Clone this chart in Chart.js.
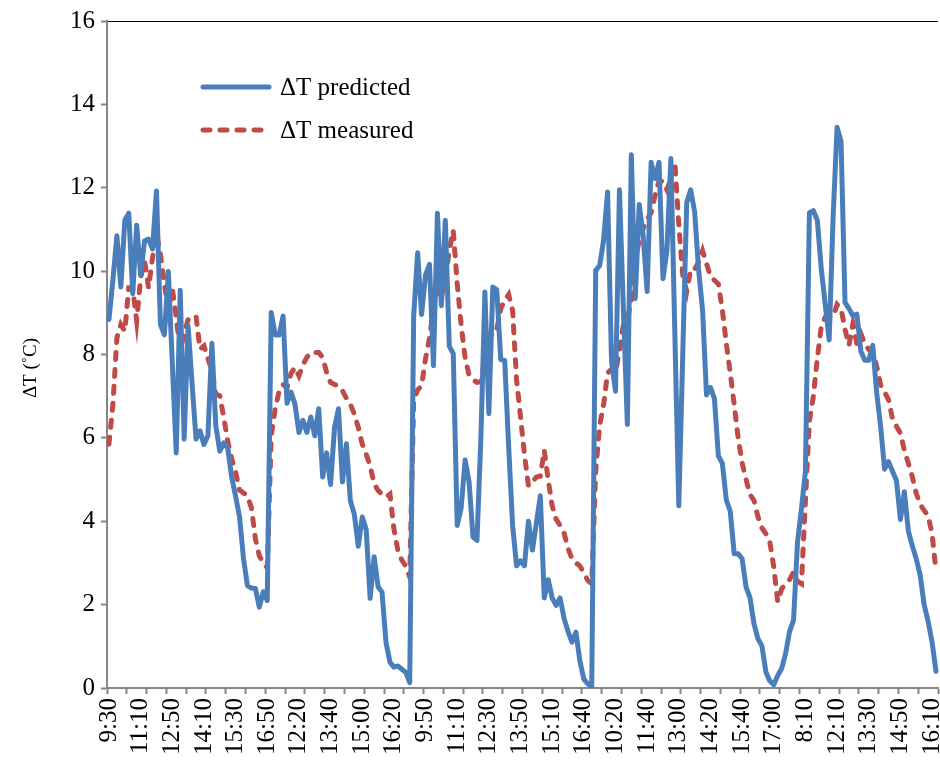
<!DOCTYPE html>
<html>
<head>
<meta charset="utf-8">
<script src="https://cdn.jsdelivr.net/npm/chart.js@4"></script>
<style>
  html, body { margin: 0; padding: 0; background: #fff; }
  #wrap { width: 940px; height: 773px; }
</style>
</head>
<body>
<div id="wrap"><canvas id="myChart" width="940" height="773"></canvas></div>
<script>
// Time labels shown along the x axis (one every 8 samples)
const tickLabels = ['9:30', '11:10', '12:50', '14:10', '15:30', '16:50', '12:20', '13:40', '15:00',
    '16:20', '9:50', '11:10', '12:30', '13:50', '15:10', '16:40', '10:20', '11:40', '13:00', '14:20',
    '15:40', '17:00', '8:10', '12:10', '13:30', '14:50', '16:10'];

// Predicted temperature difference (°C)
const predicted = [
    8.84, 9.8, 10.85, 9.62, 11.22, 11.39, 9.46, 11.10, 9.91, 10.73,
    10.77, 10.53, 11.92, 8.72, 8.47, 9.99, 7.8, 5.64, 9.54, 5.97,
    8.68, 7.3, 5.97, 6.17, 5.84, 6.05, 8.27, 6.29, 5.68, 5.88,
    5.76, 5.06, 4.6, 4.1, 3.1, 2.45, 2.4, 2.39, 1.94, 2.31,
    2.10, 9.01, 8.47, 8.47, 8.92, 6.83, 7.1, 6.81, 6.13, 6.42,
    6.13, 6.50, 6.05, 6.70, 5.06, 5.64, 4.88, 6.25, 6.70, 4.94,
    5.86, 4.49, 4.17, 3.40, 4.1, 3.8, 2.15, 3.15, 2.43, 2.3,
    1.1, 0.62, 0.5, 0.53, 0.45, 0.38, 0.13, 8.92, 10.44, 8.96,
    9.91, 10.16, 7.73, 11.39, 9.17, 11.22, 8.2, 8.02, 3.9, 4.32,
    5.47, 4.94, 3.62, 3.54, 6.05, 9.5, 6.58, 9.62, 9.55, 7.88,
    7.86, 5.8, 3.9, 2.93, 3.05, 2.93, 4.0, 3.31, 3.95, 4.61,
    2.16, 2.6, 2.16, 1.98, 2.16, 1.67, 1.36, 1.10, 1.34, 0.65,
    0.21, 0.1, 0.03, 10.02, 10.13, 10.75, 11.9, 7.83, 7.12, 11.95,
    9.07, 6.32, 12.79, 9.34, 11.6, 10.84, 9.51, 12.61, 12.22, 12.61,
    9.82, 10.5, 12.7, 8.5, 4.37, 8.0, 11.64, 11.95, 11.42, 10.04,
    9.07, 7.03, 7.21, 6.94, 5.57, 5.39, 4.51, 4.24, 3.22, 3.22,
    3.1, 2.42, 2.16, 1.54, 1.18, 1.01, 0.39, 0.17, 0.08, 0.30,
    0.47, 0.83, 1.36, 1.63, 3.5, 4.3, 5.2, 11.40, 11.45, 11.22,
    10.06, 9.2, 8.35, 11.31, 13.45, 13.11, 9.25, 9.1, 8.93, 8.97,
    8.08, 7.86, 7.86, 8.22, 7.09, 6.28, 5.25, 5.43, 5.2, 4.98,
    4.04, 4.71, 3.77, 3.41, 3.1, 2.7, 2.0, 1.6, 1.1, 0.4
];

// Measured temperature difference (°C)
const measured = [
    5.85, 6.81, 8.40, 8.72, 8.56, 9.6, 9.6, 8.80, 9.84, 10.24,
    9.6, 10.32, 10.92, 10.4, 9.7, 9.04, 9.6, 8.88, 8.09, 8.5,
    8.84, 8.88, 8.92, 8.13, 8.21, 7.9, 7.61, 7.05, 7.01, 6.49,
    5.93, 5.5, 5.18, 4.75, 4.68, 4.61, 4.32, 3.58, 3.17, 3.0,
    2.88, 6.05, 6.70, 7.12, 7.28, 7.20, 7.55, 7.69, 7.49, 7.75,
    7.93, 8.05, 8.05, 8.05, 7.93, 7.57, 7.33, 7.28, 7.25, 7.13,
    6.95, 6.81, 6.57, 6.25, 5.85, 5.61, 5.33, 4.90, 4.74, 4.65,
    4.58, 4.65, 3.82, 3.3, 3.07, 2.92, 2.66, 6.9, 7.15, 7.25,
    7.9, 8.4, 9.1, 9.58, 9.38, 9.83, 10.5, 10.98, 9.7, 8.7,
    7.93, 7.5, 7.4, 7.33, 7.35, 7.9, 8.5, 8.45, 8.6, 9.1,
    9.3, 9.44, 9.05, 7.4, 6.5, 5.6, 4.85, 4.95, 5.06, 5.08,
    5.70, 4.99, 4.37, 4.05, 3.9, 3.72, 3.35, 3.1, 3.0, 2.93,
    2.76, 2.58, 2.5, 5.2, 6.3, 6.8, 7.56, 7.65, 7.56, 8.1,
    8.72, 8.85, 9.3, 10.22, 10.75, 11.02, 11.24, 11.4, 11.82, 12.17,
    12.15, 11.95, 12.22, 12.61, 11.11, 9.9, 9.51, 10.04, 10.04, 10.22,
    10.49, 10.18, 9.87, 9.78, 9.69, 9.07, 8.27, 7.56, 6.8, 6.0,
    5.4, 5.0, 4.64, 4.5, 4.11, 3.84, 3.7, 3.5, 2.9, 2.07,
    2.38, 2.5, 2.6, 2.78, 2.56, 2.5, 4.5, 6.4, 7.0, 7.9,
    8.67, 8.89, 8.9, 8.9, 9.2, 9.1, 8.6, 8.22, 8.74, 8.26,
    8.5, 8.26, 8.12, 8.07, 7.72, 7.27, 7.1, 6.91, 6.46, 6.28,
    6.11, 5.7, 5.39, 5.07, 4.67, 4.4, 4.26, 4.13, 3.7, 2.8
];

// one category per sample, named only where a time label is shown
const categories = predicted.map((v, i) => (i % 8 === 0 ? tickLabels[i / 8] : ''));

const serif = '"Liberation Serif", "Times New Roman", serif';
const axisGrey = '#868686';

// legend drawn inside the plot, upper left
const insideLegend = {
    id: 'insideLegend',
    afterDraw(chart) {
        const ctx = chart.ctx;
        const rows = [87, 130];
        ctx.save();
        chart.data.datasets.forEach((ds, i) => {
            const y = rows[i];
            ctx.beginPath();
            ctx.strokeStyle = ds.borderColor;
            ctx.lineWidth = ds.borderWidth;
            ctx.lineCap = ds.borderCapStyle || 'butt';
            ctx.setLineDash(ds.borderDash || []);
            ctx.moveTo(203, y);
            ctx.lineTo(269, y);
            ctx.stroke();
            ctx.setLineDash([]);
            ctx.fillStyle = '#000';
            ctx.font = '25px ' + serif;
            ctx.textBaseline = 'middle';
            ctx.fillText(ds.label, 280, y + 1);
        });
        ctx.restore();
    }
};

// y axis caption, rotated, sitting a little below the axis middle
const yCaption = {
    id: 'yCaption',
    afterDraw(chart) {
        const ctx = chart.ctx;
        ctx.save();
        ctx.translate(31, 368);
        ctx.rotate(-Math.PI / 2);
        ctx.fillStyle = '#000';
        ctx.font = '19px ' + serif;
        ctx.textAlign = 'center';
        ctx.textBaseline = 'middle';
        ctx.fillText('ΔT (˚C)', 0, 0);
        ctx.restore();
    }
};

const ctx = document.getElementById('myChart').getContext('2d');
const deltaChart = new Chart(ctx, {
    type: 'line',
    data: {
        labels: categories,
        datasets: [{
            label: 'ΔT predicted',
            data: predicted,
            borderColor: '#4a7ebb',
            borderWidth: 5,
            borderJoinStyle: 'round',
            borderCapStyle: 'round',
            pointRadius: 0,
            fill: false,
            tension: 0
        }, {
            label: 'ΔT measured',
            data: measured,
            borderColor: '#be4b48',
            borderWidth: 5,
            borderDash: [7, 10],
            borderCapStyle: 'round',
            pointRadius: 0,
            fill: false,
            tension: 0
        }]
    },
    options: {
        responsive: false,
        animation: false,
        devicePixelRatio: 1,
        layout: { padding: { top: 19, right: 2, left: 0, bottom: 0 } },
        plugins: {
            legend: { display: false },
            tooltip: { enabled: false }
        },
        scales: {
            x: {
                offset: true,
                grid: {
                    offset: true,
                    drawOnChartArea: false,
                    tickLength: 6,
                    tickWidth: 2,
                    // a tick mark every 5 samples
                    tickColor: c => (c.index === undefined || c.index % 5 === 0) ? axisGrey : 'rgba(0,0,0,0)'
                },
                border: { color: axisGrey, width: 2 },
                ticks: {
                    autoSkip: false,
                    minRotation: 90,
                    maxRotation: 90,
                    padding: 4,
                    color: '#000',
                    font: { family: serif, size: 25 },
                    callback: (value, index) => categories[index]
                },
                afterFit: scale => {
                    scale.height = 85;
                    scale.paddingLeft = 0;
                    scale.paddingRight = 0;
                }
            },
            y: {
                min: 0,
                max: 16,
                ticks: {
                    stepSize: 2,
                    padding: 6,
                    color: '#000',
                    font: { family: serif, size: 25 }
                },
                grid: {
                    // only the top frame line is drawn across the plot
                    color: c => (c.tick && c.tick.value === 16) ? '#000' : 'rgba(0,0,0,0)',
                    lineWidth: 1,
                    tickColor: axisGrey,
                    tickLength: 6,
                    tickWidth: 2
                },
                border: { color: axisGrey, width: 2 },
                afterFit: scale => { scale.width = 107; }
            }
        }
    },
    plugins: [insideLegend, yCaption]
});
</script>
</body>
</html>
